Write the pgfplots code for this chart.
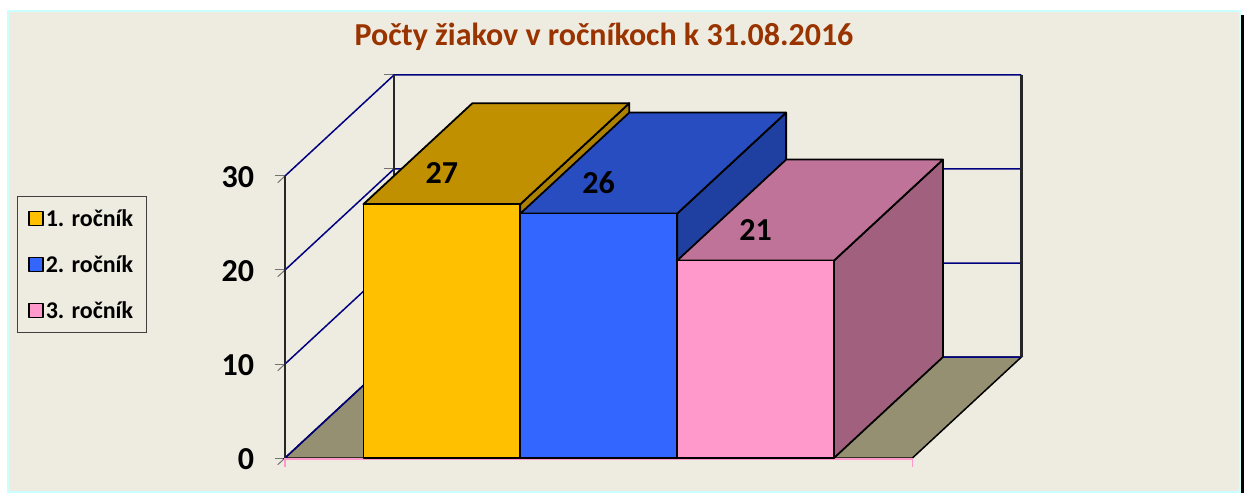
\documentclass[border=0pt]{standalone}
\usepackage{pgfplots}
\pgfplotsset{compat=1.18}
\usepackage{fontspec}
\setmainfont{Carlito}
\definecolor{bgc}{HTML}{EEEBE0}
\definecolor{cyanb}{HTML}{CCFFFF}
\definecolor{floorc}{HTML}{969072}
\definecolor{gridc}{HTML}{000080}
\definecolor{pinkax}{HTML}{FF99CC}
\definecolor{titlec}{HTML}{993300}
\definecolor{fa}{HTML}{FFC000}\definecolor{ta}{HTML}{C09000}\definecolor{sa}{HTML}{AC8100}
\definecolor{fb}{HTML}{3366FF}\definecolor{tb}{HTML}{284DC0}\definecolor{sb}{HTML}{1F40A0}
\definecolor{fc}{HTML}{FF99CC}\definecolor{tc}{HTML}{C07399}\definecolor{sc}{HTML}{A2607F}
% one bar: from x=#1 to x=#2, height #3, colours #4 front, #5 top, #6 side
\newcommand{\cuboid}[6]{%
 \addplot3[draw=black,line width=1.8pt,line join=round,fill=#6,forget plot] coordinates {(#2,0,0)(#2,1,0)(#2,1,#3)(#2,0,#3)} -- cycle;
 \addplot3[draw=black,line width=1.8pt,line join=round,fill=#5,forget plot] coordinates {(#1,0,#3)(#1,1,#3)(#2,1,#3)(#2,0,#3)} -- cycle;
 \addplot3[draw=black,line width=1.8pt,line join=round,fill=#4] coordinates {(#1,0,0)(#2,0,0)(#2,0,#3)(#1,0,#3)} -- cycle;
}
\begin{document}
\begin{tikzpicture}
\path[use as bounding box] (0,0) rectangle (1244pt,493pt);
\fill[bgc,draw=cyanb,line width=2pt] (7.5pt,1.5pt) rectangle (1239.5pt,482pt);
\fill[black] (1240.5pt,0pt) rectangle (1244pt,478pt);
\node[font=\bfseries\fontsize{32}{35}\selectfont,text=titlec] at (604pt,456.5pt) {Počty žiakov v ročníkoch k 31.08.2016};
\begin{axis}[
  anchor=origin, at={(285pt,35pt)},
  x={(156.85pt,0pt)}, y={(109pt,101pt)}, z={(0pt,9.4pt)},
  xmin=0,xmax=4,ymin=0,ymax=1,zmin=0,zmax=30,
  clip=false,
  axis line style={draw=none},
  xtick=\empty, ytick=\empty, ztick={0,10,20,30},
  ztick pos=left,
  major tick length=10pt,
  tick style={draw=black!55,line width=1pt},
  tick align=outside,
  /pgf/number format/assume math mode=true,
  tick label style={font=\bfseries\fontsize{32}{35}\selectfont,anchor=east,xshift=-20pt,yshift=6pt},
  legend style={at={(axis cs:-1.71,0,27.87)},anchor=north west,draw=black!75,line width=1pt,fill=none,
    font=\bfseries\fontsize{24}{26}\selectfont,row sep=23.5pt,inner xsep=11pt,inner ysep=11pt},
  legend cell align=left,
  legend image code/.code={\draw[#1,line width=1.5pt] (0pt,-7pt) rectangle (14pt,7pt);},
]
% floor
\addplot3[fill=floorc,draw=black,line width=1.5pt,forget plot] coordinates {(0,0,0)(4,0,0)(4,1,0)(0,1,0)} -- cycle;
% grid lines
\addplot3[gridc,line width=1.5pt,forget plot] coordinates {(0,0,0)(0,1,0)(4,1,0)};
\addplot3[gridc,line width=1.5pt,forget plot] coordinates {(0,0,10)(0,1,10)(4,1,10)};
\addplot3[gridc,line width=1.5pt,forget plot] coordinates {(0,0,20)(0,1,20)(4,1,20)};
\addplot3[gridc,line width=1.5pt,forget plot] coordinates {(0,0,30)(0,1,30)(4,1,30)};
% wall edges
\addplot3[black!85,line width=2.2pt,forget plot] coordinates {(0,0,0)(0,0,30)};
\addplot3[black!85,line width=2.2pt,forget plot] coordinates {(0,1,0)(0,1,30)};
\addplot3[black!85,line width=2.2pt,forget plot] coordinates {(4,1,0)(4,1,30)};
% pink category axis
\addplot3[pinkax,line width=1.6pt,forget plot] coordinates {(0,0,-1)(0,0,-0.12)(4,0,-0.12)(4,0,-1)};
% bars
\cuboid{0.5}{1.5}{27}{fa}{ta}{sa}
\addlegendentry{1. ročník}
\cuboid{1.5}{2.5}{26}{fb}{tb}{sb}
\addlegendentry{2. ročník}
\cuboid{2.5}{3.5}{21}{fc}{tc}{sc}
\addlegendentry{3. ročník}
% value labels
\addplot3[draw=none,mark=none,forget plot,nodes near coords,point meta=z,
  nodes near coords style={anchor=center,yshift=31pt,text=black,font=\bfseries\fontsize{32}{35}\selectfont,
  /pgf/number format/assume math mode=true}]
  coordinates {(1,0,27)(2,0,26)(3,0,21)};
\end{axis}
\end{tikzpicture}
\end{document}
